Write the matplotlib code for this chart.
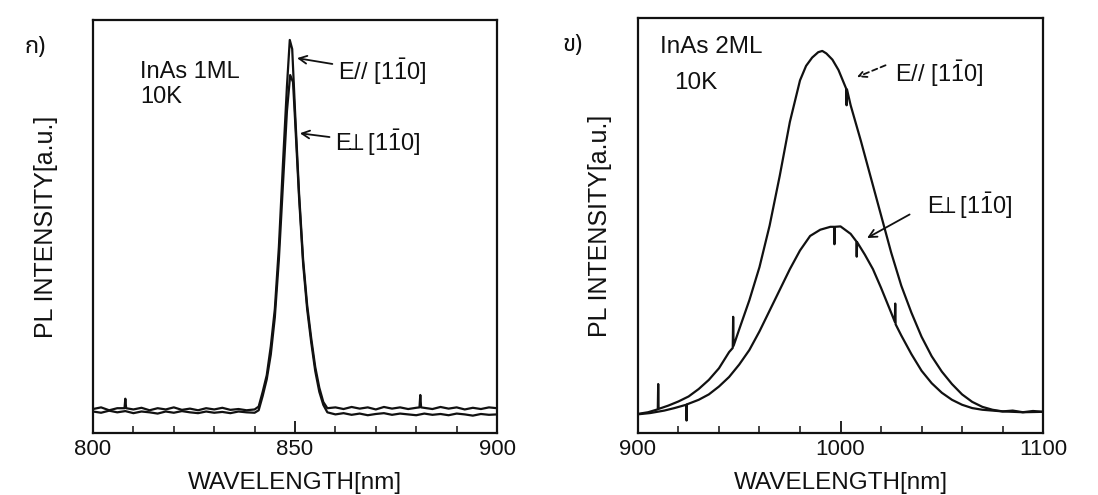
import matplotlib
matplotlib.use("Agg")
import matplotlib.pyplot as plt
from matplotlib import font_manager
from matplotlib.ticker import MultipleLocator

plt.rcParams['font.family'] = ['Liberation Sans', 'DejaVu Sans']
plt.rcParams['mathtext.fontset'] = 'custom'
plt.rcParams['mathtext.rm'] = 'Liberation Sans'
plt.rcParams['mathtext.default'] = 'regular'
plt.rcParams['mathtext.fallback'] = 'stixsans'

# panel (a): InAs 1ML (intensity in a.u., 0..1)
ml1_x_par = [800, 802, 804, 806, 807.8, 808, 808.2, 810, 812, 814, 816, 818, 820, 822, 824,
             826, 828, 830, 832, 834, 836, 838, 840, 841, 842, 843, 844, 845, 846,
             847, 848, 848.7, 849.3, 850, 851, 852, 853, 854, 855, 856, 857, 858,
             860, 862, 864, 866, 868, 870, 872, 874, 876, 878, 880, 880.8, 881,
             881.2, 884, 886, 888, 890, 892, 894, 896, 898, 900]
ml1_y_par = [0.058, 0.062, 0.055, 0.060, 0.060, 0.083, 0.060, 0.057, 0.061, 0.055, 0.060,
             0.057, 0.062, 0.056, 0.059, 0.055, 0.060, 0.057, 0.061, 0.056, 0.058,
             0.055, 0.057, 0.064, 0.100, 0.140, 0.210, 0.300, 0.450, 0.650, 0.840,
             0.952, 0.930, 0.780, 0.580, 0.420, 0.310, 0.230, 0.160, 0.110, 0.075,
             0.060, 0.062, 0.058, 0.063, 0.059, 0.062, 0.057, 0.063, 0.059, 0.062,
             0.058, 0.061, 0.062, 0.092, 0.062, 0.058, 0.063, 0.059, 0.062, 0.057,
             0.061, 0.058, 0.062, 0.060]
ml1_x_perp = [800, 802, 804, 806, 808, 810, 812, 814, 816, 818, 820, 822, 824, 826, 828,
              830, 832, 834, 836, 838, 840, 841, 842, 843, 844, 845, 846, 847, 848,
              848.8, 849.5, 850, 851, 852, 853, 854, 855, 856, 857, 858, 860, 862,
              864, 866, 868, 870, 872, 874, 876, 878, 880, 882, 884, 886, 888, 890,
              892, 894, 896, 898, 900]
ml1_y_perp = [0.052, 0.049, 0.054, 0.050, 0.053, 0.048, 0.052, 0.050, 0.047, 0.052, 0.049,
              0.053, 0.050, 0.048, 0.052, 0.049, 0.051, 0.048, 0.052, 0.050, 0.049,
              0.055, 0.090, 0.130, 0.190, 0.280, 0.420, 0.600, 0.780, 0.867, 0.850,
              0.760, 0.570, 0.410, 0.300, 0.220, 0.150, 0.100, 0.068, 0.050, 0.045,
              0.048, 0.044, 0.047, 0.043, 0.046, 0.048, 0.044, 0.047, 0.045, 0.043,
              0.047, 0.044, 0.046, 0.043, 0.047, 0.045, 0.042, 0.046, 0.044, 0.045]

# panel (b): InAs 2ML
ml2_x_par = [900, 905, 909.8, 910, 910.2, 915, 920, 925, 930, 935, 940, 945, 946.8, 947,
             947.2, 950, 955, 960, 965, 970, 975, 980, 983, 986, 989, 991, 993, 996,
             999, 1002.8, 1003, 1003.2, 1005, 1010, 1015, 1020, 1025, 1030, 1035,
             1040, 1045, 1050, 1055, 1060, 1065, 1070, 1075, 1080, 1085, 1090, 1095,
             1100]
ml2_y_par = [0.046, 0.050, 0.057, 0.118, 0.058, 0.066, 0.076, 0.088, 0.106, 0.128, 0.156,
             0.195, 0.205, 0.280, 0.210, 0.250, 0.320, 0.400, 0.500, 0.620, 0.750,
             0.850, 0.885, 0.905, 0.918, 0.921, 0.915, 0.900, 0.875, 0.830, 0.790,
             0.828, 0.790, 0.705, 0.615, 0.525, 0.435, 0.355, 0.290, 0.232, 0.185,
             0.148, 0.118, 0.093, 0.075, 0.063, 0.056, 0.052, 0.054, 0.050, 0.053,
             0.051]
ml2_x_perp = [900, 906, 913, 918, 923.8, 924, 924.2, 930, 935, 940, 945, 950, 955, 960,
              965, 970, 975, 980, 985, 990, 995, 996.8, 997, 997.2, 1000, 1005,
              1007.8, 1008, 1008.2, 1012, 1016, 1020, 1025, 1026.8, 1027, 1027.2,
              1030, 1035, 1040, 1045, 1050, 1055, 1060, 1065, 1070, 1080, 1090, 1100]
ml2_y_perp = [0.045, 0.048, 0.054, 0.060, 0.068, 0.030, 0.069, 0.080, 0.093, 0.112,
              0.135, 0.165, 0.200, 0.245, 0.295, 0.345, 0.395, 0.440, 0.475, 0.490,
              0.497, 0.497, 0.455, 0.497, 0.498, 0.480, 0.462, 0.425, 0.460, 0.430,
              0.395, 0.350, 0.290, 0.268, 0.312, 0.262, 0.235, 0.190, 0.150, 0.120,
              0.097, 0.080, 0.068, 0.060, 0.056, 0.052, 0.050, 0.051]

bar_dir = r'[1$\bar{1}$0]'
perp = r'E$\!\!{\perp}\!\!$ '
ink = '#111111'


def thai_family():
    names = {f.name for f in font_manager.fontManager.ttflist}
    for n in ['Noto Sans Thai', 'Sarabun', 'Prompt', 'Kanit', 'Athiti', 'Anuphan']:
        if n in names:
            return [n, 'DejaVu Sans']
    return ['DejaVu Sans']


fig = plt.figure(figsize=(10.98, 4.95), dpi=100)
ax1 = fig.add_axes([0.0847, 0.1253, 0.368, 0.834])
ax2 = fig.add_axes([0.581, 0.1253, 0.369, 0.838])

ax1.plot(ml1_x_par, ml1_y_par, color=ink, lw=1.6)
ax1.plot(ml1_x_perp, ml1_y_perp, color=ink, lw=1.6)
ax2.plot(ml2_x_par, ml2_y_par, color=ink, lw=1.6)
ax2.plot(ml2_x_perp, ml2_y_perp, color=ink, lw=1.6)

ax1.set_xlim(800, 900)
ax2.set_xlim(900, 1100)
ax1.xaxis.set_major_locator(MultipleLocator(50))
ax1.xaxis.set_minor_locator(MultipleLocator(10))
ax2.xaxis.set_major_locator(MultipleLocator(100))
ax2.xaxis.set_minor_locator(MultipleLocator(20))

for ax, lp in ((ax1, 25), (ax2, 19)):
    ax.set_ylim(0, 1)
    ax.set_yticks([])
    for s in ax.spines.values():
        s.set_linewidth(1.6)
        s.set_color(ink)
    ax.tick_params(axis='x', which='major', direction='in', length=9, width=1.3,
                   labelsize=16, pad=4, colors=ink)
    ax.tick_params(axis='x', which='minor', direction='in', length=5, width=1.1,
                   colors=ink)
    ax.set_xlabel('WAVELENGTH[nm]', fontsize=17.5, labelpad=9, color=ink)
    ax.set_ylabel('PL INTENSITY[a.u.]', fontsize=18, labelpad=lp, color=ink)

# panel labels
fig.text(25 / 1098, 1 - 47 / 495, 'ก)', fontsize=17, va='center', ha='left',
         family=thai_family(), weight='bold', color=ink)
fig.text(563 / 1098, 1 - 45 / 495, 'ข)', fontsize=17, va='center', ha='left',
         family=thai_family(), weight='bold', color=ink)

ax1.text(811.6, 0.874, 'InAs 1ML', fontsize=17, va='center', ha='left', color=ink)
ax1.text(811.6, 0.814, '10K', fontsize=17, va='center', ha='left', color=ink)
ax2.text(910.9, 0.930, 'InAs 2ML', fontsize=17.5, va='center', ha='left', color=ink)
ax2.text(917.8, 0.843, '10K', fontsize=17.5, va='center', ha='left', color=ink)

arrow = dict(arrowstyle='->', color=ink, lw=1.3, mutation_scale=14, shrinkA=2, shrinkB=0)
ax1.annotate('E// ' + bar_dir, xy=(850.5, 0.908), xytext=(860.6, 0.874),
             fontsize=17, va='center', ha='left', color=ink, arrowprops=arrow)
ax1.annotate(perp + bar_dir, xy=(851.2, 0.726), xytext=(859.9, 0.702),
             fontsize=17, va='center', ha='left', color=ink, arrowprops=arrow)

dashed = dict(arrow, linestyle=(0, (3, 2)))
ax2.annotate('', xy=(1008.1, 0.858), xytext=(1023.5, 0.889), arrowprops=dashed)
ax2.text(1026.9, 0.867, 'E// ' + bar_dir, fontsize=17, va='center', ha='left',
         color=ink)
ax2.annotate('', xy=(1013.1, 0.47), xytext=(1035.3, 0.53), arrowprops=arrow)
ax2.text(1042.7, 0.549, perp + bar_dir, fontsize=17, va='center', ha='left',
         color=ink)

fig.savefig('out.png', dpi=100)
